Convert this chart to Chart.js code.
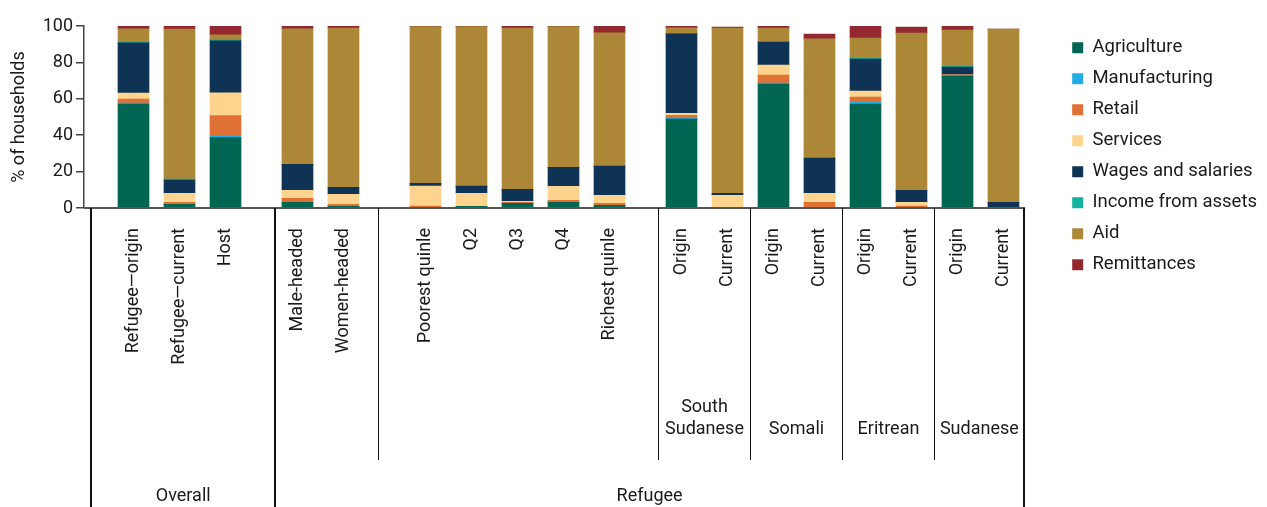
<!DOCTYPE html>
<html>
<head>
<meta charset="utf-8">
<script src="https://cdn.jsdelivr.net/npm/chart.js@4.4.1/dist/chart.umd.min.js"></script>
<style>
  html, body { margin: 0; padding: 0; background: #fff; }
  #wrap { width: 1267px; height: 507px; position: relative; }
</style>
</head>
<body>
<div id="wrap"><canvas id="chart"></canvas></div>
<script>
// categories along the x axis
const categories = ['Refugee\u2014origin', 'Refugee\u2014current', 'Host', 'Male-headed', 'Women-headed',
    'Poorest quinle', 'Q2', 'Q3', 'Q4', 'Richest quinle',
    'Origin', 'Current', 'Origin', 'Current', 'Origin', 'Current', 'Origin', 'Current'];
const sections = ['Overall', 'Refugee'];
const countries = [['South', 'Sudanese'], ['Somali'], ['Eritrean'], ['Sudanese']];
const yTicks = [0, 20, 40, 60, 80, 100];

// % of households by income source
const agriculture   = [57.1, 2.0, 38.7, 3.1, 0.9, 0.4, 0.9, 2.6, 3.1, 1.5, 48.8, 0, 68.1, 0, 57.1, 0, 72.5, 0];
const manufacturing = [0.6, 0, 1.1, 0, 0, 0, 0, 0, 0, 0, 0.5, 0, 0.5, 0, 1.1, 0, 0.5, 0];
const retail        = [2.2, 1.1, 11.0, 2.2, 1.1, 0.6, 0, 0.5, 1.1, 1.1, 1.6, 0, 4.4, 3.1, 2.7, 1.1, 0.5, 0];
const services      = [3.3, 5.0, 12.5, 4.4, 5.5, 11.0, 7.2, 0.5, 7.7, 4.4, 1.1, 7.0, 5.5, 5.0, 3.3, 2.0, 0, 0];
const wages         = [27.5, 7.3, 28.6, 14.3, 3.9, 1.6, 3.9, 6.6, 10.5, 16.0, 43.7, 1.1, 12.7, 19.3, 17.6, 6.6, 3.9, 3.1];
const assets        = [0.5, 0.5, 0.5, 0, 0, 0, 0, 0, 0, 0, 0, 0, 0, 0, 0.5, 0, 0.5, 0];
const aid           = [7.2, 82.4, 2.7, 74.4, 87.5, 86.1, 87.7, 88.7, 77.3, 73.2, 3.3, 90.8, 7.7, 65.5, 11.1, 86.4, 19.9, 95.2];
const remittances   = [1.7, 1.7, 4.9, 1.6, 1.1, 0.3, 0.3, 1.1, 0.4, 3.8, 1.0, 0.5, 1.1, 2.7, 6.6, 3.3, 2.2, 0];

const series = [
    { label: 'Agriculture', data: agriculture, color: '#006651' },
    { label: 'Manufacturing', data: manufacturing, color: '#22aee4' },
    { label: 'Retail', data: retail, color: '#e07134' },
    { label: 'Services', data: services, color: '#fed48e' },
    { label: 'Wages and salaries', data: wages, color: '#0e3354' },
    { label: 'Income from assets', data: assets, color: '#10b39b' },
    { label: 'Aid', data: aid, color: '#ad8738' },
    { label: 'Remittances', data: remittances, color: '#932831' }
];

// layout: extra space (in bar slots) after some categories
const gapAfter = { 2: 0.565, 4: 0.783, 9: 0.565 };
const slotPx = 46;
const xMin = -1.076;
let off = 0;
const xPos = categories.map((_, i) => {
    const p = i + off;
    if (gapAfter[i]) off += gapAfter[i];
    return p;
});
const last = xPos[xPos.length - 1];
const dividers = [
    { x: -0.913, full: true },
    { x: 3.076, full: true },
    { x: 5.315 },
    { x: xPos[10] - 0.5 },
    { x: xPos[12] - 0.5 },
    { x: xPos[14] - 0.5 },
    { x: xPos[16] - 0.5 },
    { x: last + 0.45, full: true }
];

const TEXT = '#1a1a1a';
Chart.defaults.font.family = 'Roboto';
Chart.defaults.font.size = 18;
Chart.defaults.color = TEXT;

const bracketPlugin = {
    id: 'brackets',
    afterDraw(chart) {
        const { ctx, chartArea, scales } = chart;
        const x = scales.x, y = scales.y;
        const base = y.getPixelForValue(0);
        ctx.save();
        // baseline
        ctx.strokeStyle = '#555';
        ctx.lineWidth = 2;
        ctx.beginPath();
        ctx.moveTo(chartArea.left, base);
        ctx.lineTo(x.getPixelForValue(last + 0.45) + 1, base);
        ctx.stroke();
        // bracket lines under the axis
        ctx.strokeStyle = '#111';
        dividers.forEach(d => {
            const px = Math.round(x.getPixelForValue(d.x));
            ctx.lineWidth = d.full ? 2 : 1;
            ctx.beginPath();
            ctx.moveTo(px + (d.full ? 0 : 0.5), base);
            ctx.lineTo(px + (d.full ? 0 : 0.5), d.full ? chart.height : 460);
            ctx.stroke();
        });
        // group labels
        ctx.fillStyle = TEXT;
        ctx.font = '18px Roboto';
        ctx.textAlign = 'center';
        ctx.textBaseline = 'middle';
        const mid = (a, b) => (x.getPixelForValue(a) + x.getPixelForValue(b)) / 2;
        ctx.fillText(sections[0], mid(dividers[0].x, dividers[1].x), 496);
        ctx.fillText(sections[1], mid(dividers[1].x, dividers[7].x), 496);
        countries.forEach((lines, k) => {
            const cx = mid(dividers[3 + k].x, dividers[4 + k].x);
            lines.forEach((t, j) => {
                ctx.fillText(t, cx, 429 - (lines.length - 1 - j) * 22);
            });
        });
        ctx.restore();
    }
};

new Chart(document.getElementById('chart'), {
    type: 'bar',
    data: {
        datasets: series.map(s => ({
            label: s.label,
            data: s.data.map((v, i) => ({ x: xPos[i], y: v })),
            backgroundColor: s.color,
            borderWidth: 0,
            barThickness: 31
        }))
    },
    options: {
        responsive: true,
        maintainAspectRatio: false,
        animation: false,
        layout: { padding: { top: 26, left: 0, right: 0, bottom: 0 } },
        plugins: {
            tooltip: { enabled: false },
            legend: {
                position: 'right',
                align: 'start',
                maxWidth: 208,
                labels: { boxWidth: 11, boxHeight: 11, padding: 12.5, color: TEXT, font: { size: 18.5 } }
            }
        },
        scales: {
            x: {
                type: 'linear',
                stacked: true,
                offset: false,
                grid: { display: false },
                border: { display: false },
                ticks: {
                    autoSkip: false,
                    minRotation: 90,
                    maxRotation: 90,
                    padding: 12,
                    color: TEXT,
                    font: { size: 18 },
                    callback: (v, i) => categories[i]
                },
                afterBuildTicks: s => {
                    s.min = xMin;
                    s.max = xMin + s.width / slotPx;
                    s.ticks = xPos.map(v => ({ value: v }));
                },
                afterFit: s => { s.height = 299; }
            },
            y: {
                stacked: true,
                min: 0,
                max: 100,
                afterBuildTicks: s => { s.ticks = yTicks.map(v => ({ value: v })); },
                grid: { drawOnChartArea: false, drawTicks: true, tickLength: 8, color: '#444', lineWidth: 1.5 },
                border: { color: '#444', width: 1.5 },
                ticks: { padding: 3, color: TEXT, font: { size: 18 } },
                title: { display: true, text: '% of households', color: TEXT, font: { size: 18 }, padding: { top: 9, bottom: 0 } },
                afterFit: s => { s.width = 84; }
            }
        }
    },
    plugins: [bracketPlugin]
});
</script>
</body>
</html>
